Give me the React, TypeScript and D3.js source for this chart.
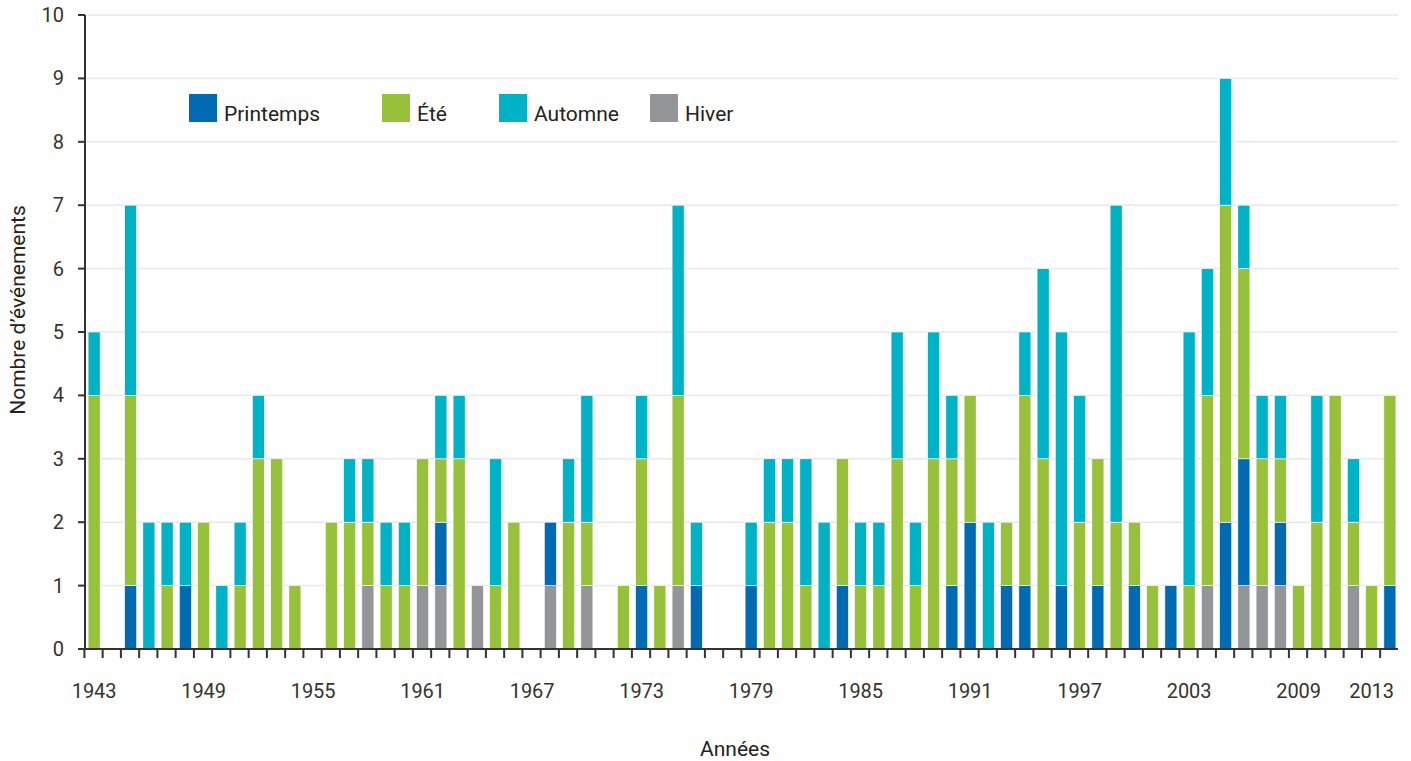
import React from 'react';
import * as d3 from 'd3';

const years = d3.range(1943, 2015);

// events per season, one value per year 1943 -> 2014
const printemps = [
  0, 0, 1, 0, 0, 1, 0, 0, 0, 0,
  0, 0, 0, 0, 0, 0, 0, 0, 0, 1,
  0, 0, 0, 0, 0, 1, 0, 0, 0, 0,
  1, 0, 0, 1, 0, 0, 1, 0, 0, 0,
  0, 1, 0, 0, 0, 0, 0, 1, 2, 0,
  1, 1, 0, 1, 0, 1, 0, 1, 0, 1,
  0, 0, 2, 2, 0, 1, 0, 0, 0, 0,
  0, 1,
];
const ete = [
  4, 0, 3, 0, 1, 0, 2, 0, 1, 3,
  3, 1, 0, 2, 2, 1, 1, 1, 2, 1,
  3, 0, 1, 2, 0, 0, 2, 1, 0, 1,
  2, 1, 3, 0, 0, 0, 0, 2, 2, 1,
  0, 2, 1, 1, 3, 1, 3, 2, 2, 0,
  1, 3, 3, 0, 2, 2, 2, 1, 1, 0,
  1, 3, 5, 3, 2, 1, 1, 2, 4, 1,
  1, 3,
];
const automne = [
  1, 0, 3, 2, 1, 1, 0, 1, 1, 1,
  0, 0, 0, 0, 1, 1, 1, 1, 0, 1,
  1, 0, 2, 0, 0, 0, 1, 2, 0, 0,
  1, 0, 3, 1, 0, 0, 1, 1, 1, 2,
  2, 0, 1, 1, 2, 1, 2, 1, 0, 2,
  0, 1, 3, 4, 2, 0, 5, 0, 0, 0,
  4, 2, 2, 1, 1, 1, 0, 2, 0, 1,
  0, 0,
];
const hiver = [
  0, 0, 0, 0, 0, 0, 0, 0, 0, 0,
  0, 0, 0, 0, 0, 1, 0, 0, 1, 1,
  0, 1, 0, 0, 0, 1, 0, 1, 0, 0,
  0, 0, 1, 0, 0, 0, 0, 0, 0, 0,
  0, 0, 0, 0, 0, 0, 0, 0, 0, 0,
  0, 0, 0, 0, 0, 0, 0, 0, 0, 0,
  0, 1, 0, 1, 1, 1, 0, 0, 0, 1,
  0, 0,
];

const tickYears = [1943, 1949, 1955, 1961, 1967, 1973, 1979, 1985, 1991, 1997, 2003, 2009, 2013];
const yTicks = [0, 1, 2, 3, 4, 5, 6, 7, 8, 9, 10];

const series = [
  { key: 'hiver', label: 'Hiver', color: '#939598', values: hiver },
  { key: 'printemps', label: 'Printemps', color: '#006ab3', values: printemps },
  { key: 'ete', label: 'Été', color: '#97c13a', values: ete },
  { key: 'automne', label: 'Automne', color: '#00b2c5', values: automne },
];
const legendOrder = ['printemps', 'ete', 'automne', 'hiver'];

const W = 1411;
const H = 761;
const font = 'Roboto, "Noto Sans", sans-serif';

export default function App() {
  const left = 85;
  const right = 1399;
  const top = 15;
  const bottom = 649;

  const table = years.map((y, i) => {
    const row: any = { year: y };
    series.forEach((s) => (row[s.key] = s.values[i]));
    return row;
  });
  const stacked = d3.stack().keys(series.map((s) => s.key))(table);

  const x = d3.scaleBand<number>().domain(years).range([left, right]).paddingInner(0.34).paddingOuter(0.17);
  const y = d3.scaleLinear().domain([0, 10]).range([bottom, top]);
  const step = x.step();
  const cellStart = (yr: number) => (x(yr) as number) - (step * 0.34) / 2;

  const legendX = [189, 382, 499, 650];

  return (
    <svg width={W} height={H} style={{ position: 'absolute', left: 0, top: 0, background: '#fff' }}>
      {/* grid */}
      {yTicks.slice(1).map((t) => (
        <line key={'g' + t} x1={left} x2={right - 1} y1={y(t)} y2={y(t)} stroke="#e8e8e8" strokeWidth={1.5} />
      ))}

      {/* bars */}
      {stacked.map((layer, li) => (
        <g key={layer.key} fill={series[li].color}>
          {layer.map((d, i) =>
            d[1] - d[0] > 0 ? (
              <rect
                key={i}
                x={x(years[i])}
                width={x.bandwidth()}
                y={y(d[1])}
                height={y(d[0]) - y(d[1])}
                stroke="#fff"
                strokeWidth={0.6}
              />
            ) : null
          )}
        </g>
      ))}

      {/* y axis */}
      <line x1={left} x2={left} y1={top} y2={bottom} stroke="#333" strokeWidth={2} />
      {yTicks.map((t) => (
        <g key={'y' + t}>
          <line x1={left - 7} x2={left} y1={y(t)} y2={y(t)} stroke="#333" strokeWidth={2} />
          <text x={64} y={y(t)} dy="0.35em" textAnchor="end" fontFamily={font} fontSize={20} fill="#333">
            {t}
          </text>
        </g>
      ))}

      {/* x axis */}
      <line x1={left - 1} x2={right - 1} y1={bottom} y2={bottom} stroke="#333" strokeWidth={2} />
      {years.map((yr) => (
        <line key={'t' + yr} x1={cellStart(yr) - 0.6} x2={cellStart(yr) - 0.6} y1={bottom} y2={bottom + 9} stroke="#333" strokeWidth={2} />
      ))}
      {tickYears.map((yr) => (
        <text
          key={'l' + yr}
          x={(x(yr) as number) + x.bandwidth() / 2}
          y={698}
          textAnchor="middle"
          fontFamily={font}
          fontSize={20}
          fill="#333"
        >
          {yr}
        </text>
      ))}

      {/* axis titles */}
      <text x={735} y={756} textAnchor="middle" fontFamily={font} fontSize={21} fill="#222">
        Années
      </text>
      <text
        transform={`translate(25,${(top + bottom) / 2 - 22}) rotate(-90)`}
        textAnchor="middle"
        fontFamily={font}
        fontSize={21}
        fill="#222"
      >
        Nombre d’événements
      </text>

      {/* legend */}
      {legendOrder.map((k, i) => {
        const s = series.find((d) => d.key === k)!;
        return (
          <g key={'lg' + k} transform={`translate(${legendX[i]},94)`}>
            <rect width={28} height={28} fill={s.color} />
            <text x={35} y={27} fontFamily={font} fontSize={21} fill="#222">
              {s.label}
            </text>
          </g>
        );
      })}
    </svg>
  );
}
